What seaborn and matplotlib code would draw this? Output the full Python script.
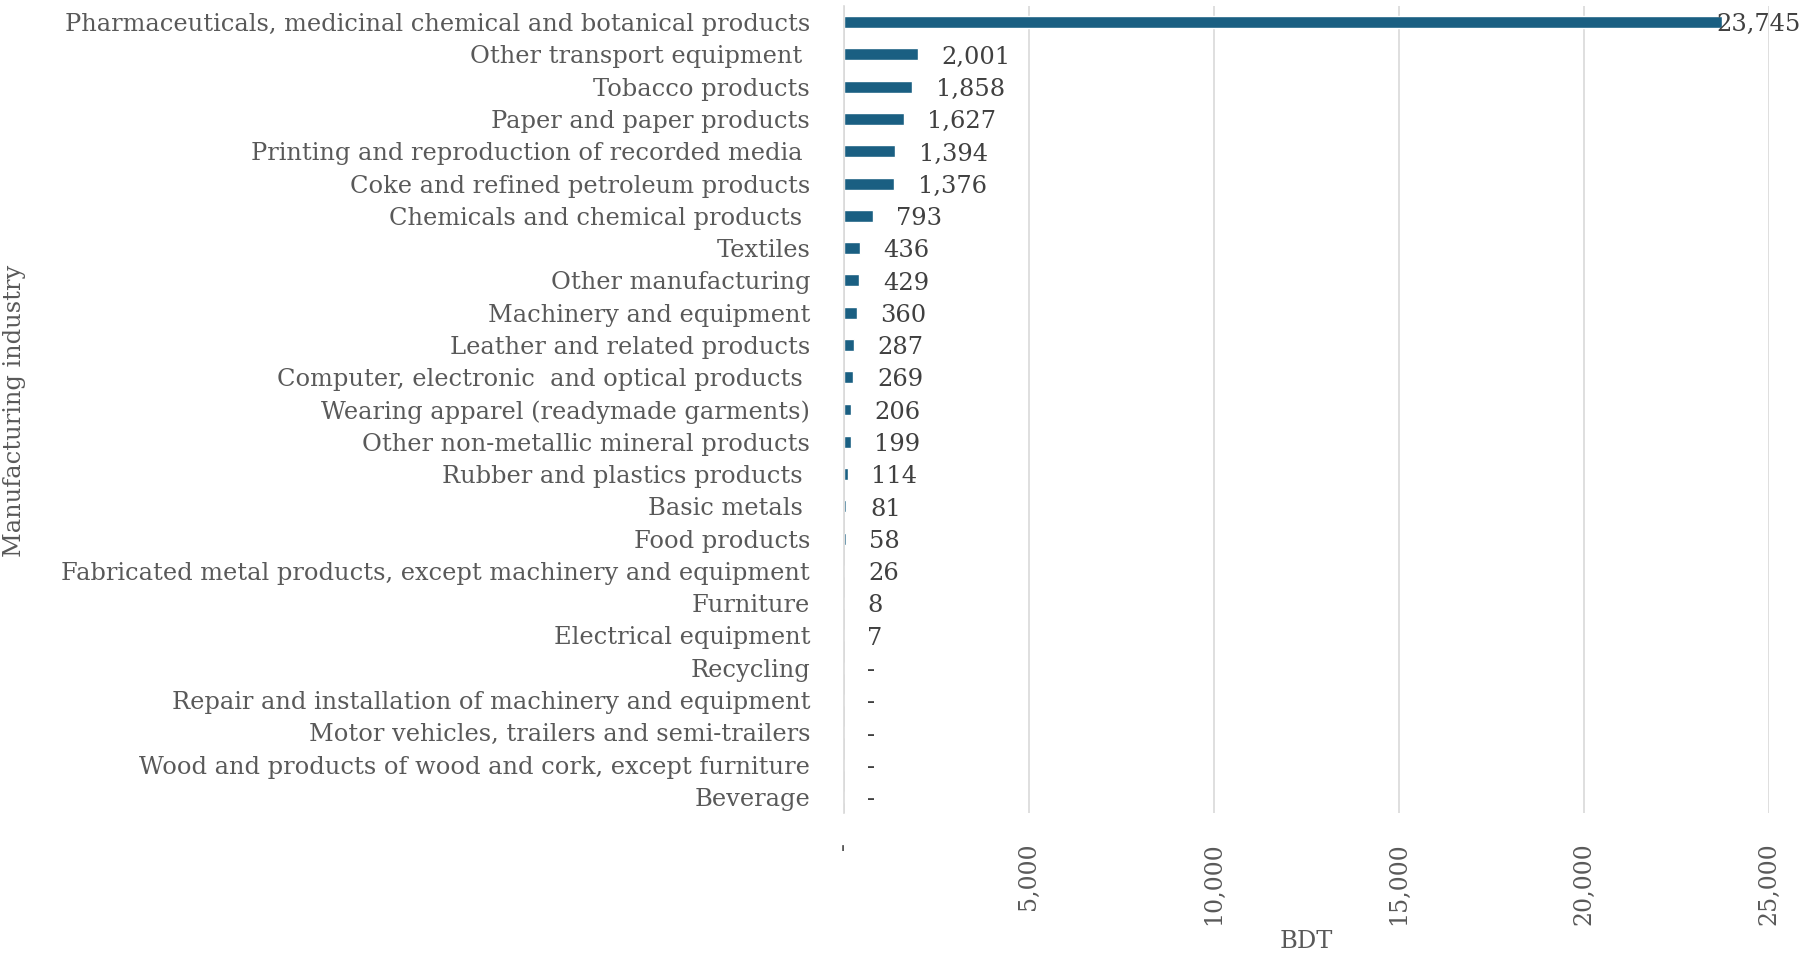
import matplotlib
matplotlib.use("Agg")
import matplotlib.pyplot as plt
import seaborn as sns
import pandas as pd

# Manufacturing industries, top to bottom as drawn
industries = [
    "Pharmaceuticals, medicinal chemical and botanical products",
    "Other transport equipment ",
    "Tobacco products",
    "Paper and paper products",
    "Printing and reproduction of recorded media ",
    "Coke and refined petroleum products",
    "Chemicals and chemical products ",
    "Textiles",
    "Other manufacturing",
    "Machinery and equipment",
    "Leather and related products",
    "Computer, electronic  and optical products ",
    "Wearing apparel (readymade garments)",
    "Other non-metallic mineral products",
    "Rubber and plastics products ",
    "Basic metals ",
    "Food products",
    "Fabricated metal products, except machinery and equipment",
    "Furniture",
    "Electrical equipment",
    "Recycling",
    "Repair and installation of machinery and equipment",
    "Motor vehicles, trailers and semi-trailers",
    "Wood and products of wood and cork, except furniture",
    "Beverage",
]
values_bdt = [23745, 2001, 1858, 1627, 1394, 1376, 793, 436, 429, 360, 287, 269,
              206, 199, 114, 81, 58, 26, 8, 7, 0, 0, 0, 0, 0]
x_ticks = [0, 5000, 10000, 15000, 20000, 25000]

BAR = "#1a5f82"
TEXT = "#595959"
LABEL = "#404040"
GRID = "#d9d9d9"

df = pd.DataFrame({"industry": industries, "BDT": values_bdt})

sns.set_theme(style="white")
plt.rcParams["font.family"] = ["DejaVu Serif", "Liberation Serif"]

fig = plt.figure(figsize=(18.02, 9.56), dpi=100)
ax = fig.add_axes([843.5 / 1802, 1 - 813 / 956, 925.2 / 1802, 807 / 956])

sns.barplot(data=df, x="BDT", y="industry", orient="h", color=BAR,
            saturation=1, width=0.37, ax=ax)

ax.set_xlim(0, 25000)
ax.set_xticks(x_ticks)
ax.set_xticklabels(["-" if v == 0 else f"{v:,}" for v in x_ticks],
                   rotation=90, va="top", ha="center")
ax.tick_params(axis="x", length=0, pad=21, labelsize=17, labelcolor=TEXT)
ax.tick_params(axis="y", length=0, pad=24, labelsize=17.4, labelcolor=TEXT)

ax.grid(axis="x", color=GRID, linewidth=1.2)
ax.grid(axis="y", visible=False)
for side in ["top", "right", "bottom"]:
    ax.spines[side].set_visible(False)
ax.spines["left"].set_color(GRID)
ax.spines["left"].set_linewidth(1.2)
ax.set_axisbelow(True)

# value labels at the end of each bar; the longest bar's label is pulled
# back so it stays inside the figure
vmax = max(values_bdt)
for i, v in enumerate(values_bdt):
    txt = "-" if v == 0 else f"{v:,}"
    off = -4 if v == vmax else 17
    ax.annotate(txt, xy=(v, i), xytext=(off, -2), textcoords="offset points",
                ha="left", va="center", fontsize=17.4, color=LABEL)

ax.set_xlabel("BDT", fontsize=17.4, color=TEXT)
ax.set_ylabel("Manufacturing industry", fontsize=17.4, color=TEXT)
ax.xaxis.set_label_coords(1306 / 1802, 1 - 930 / 956, transform=fig.transFigure)
ax.yaxis.set_label_coords(26 / 1802, 1 - 411 / 956, transform=fig.transFigure)

fig.savefig("out.png", dpi=100, facecolor="white")
